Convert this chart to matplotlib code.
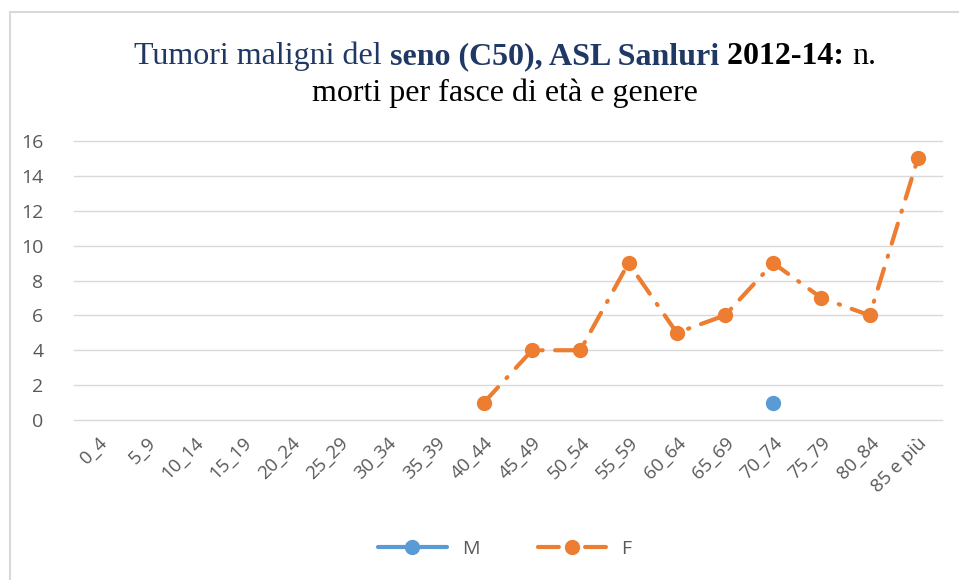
import numpy as np
import matplotlib
matplotlib.use('Agg')
import matplotlib.pyplot as plt
from matplotlib.lines import Line2D

# dati
fasce = ['0_4', '5_9', '10_14', '15_19', '20_24', '25_29', '30_34', '35_39',
         '40_44', '45_49', '50_54', '55_59', '60_64', '65_69', '70_74',
         '75_79', '80_84', '85 e più']
nan = np.nan
maschi = [nan, nan, nan, nan, nan, nan, nan, nan, nan, nan, nan, nan, nan, nan,
          1, nan, nan, nan]
femmine = [nan, nan, nan, nan, nan, nan, nan, nan, 1, 4, 4, 9, 5, 6, 9, 7, 6, 15]

blu = '#5B9BD5'
arancio = '#ED7D31'
grigio = '#595959'
blu_titolo = '#1F3864'

plt.rcParams['font.family'] = ['Open Sans', 'DejaVu Sans']

fig = plt.figure(figsize=(9.59, 5.80), dpi=100)
W, H = 959, 580
ax = fig.add_axes([74 / W, 1 - 420 / H, (942 - 74) / W, (420 - 141) / H])

x = np.arange(len(fasce))
ax.plot(x, maschi, color=blu, lw=3, marker='o', ms=10, solid_capstyle='round')
ax.plot(x, femmine, color=arancio, lw=3, marker='o', ms=10,
        dashes=(5, 3, 0.3, 3), dash_capstyle='round')

ax.set_xlim(-0.5, len(fasce) - 0.5)
ax.set_ylim(0, 16)
ax.set_yticks(range(0, 17, 2))
ax.set_xticks(x)
ax.set_xticklabels(fasce, rotation=45, ha='right', rotation_mode='anchor')
ax.tick_params(axis='both', length=0, labelcolor=grigio)
ax.tick_params(axis='y', pad=22, labelsize=14)
ax.tick_params(axis='x', pad=10, labelsize=13.5)
ax.grid(axis='y', color='#D9D9D9', lw=1)
for g in ax.get_ygridlines():
    g.set_clip_on(False)
ax.set_axisbelow(True)
for s in ax.spines.values():
    s.set_visible(False)

# titolo con stili misti
renderer = fig.canvas.get_renderer()
serif = ['Liberation Serif', 'DejaVu Serif']


def riga(pezzi, y_px):
    testi = []
    larghezze = []
    for s, kw in pezzi:
        t = fig.text(0, 1 - y_px / H, s, family=serif, fontsize=23, va='baseline', **kw)
        testi.append(t)
        larghezze.append(t.get_window_extent(renderer).width)
    x0 = 505 - sum(larghezze) / 2
    for t, w in zip(testi, larghezze):
        t.set_x(x0 / W)
        x0 += w


riga([('Tumori maligni del\u00a0', dict(color=blu_titolo)),
      ('seno (C50), ASL Sanluri\u00a0', dict(color=blu_titolo, weight='bold')),
      ('2012-14:\u00a0', dict(color='black', weight='bold')),
      ('n.', dict(color='black'))], 64)
riga([('morti per fasce di età e genere', dict(color='black'))], 101)

# legenda
handles = [Line2D([], [], color=blu, lw=3, marker='o', ms=10, solid_capstyle='round'),
           Line2D([], [], color=arancio, lw=3, marker='o', ms=10,
                  dashes=(5, 3, 0.3, 3), dash_capstyle='round')]
fig.legend(handles, ['M', 'F'], loc='center', bbox_to_anchor=(505 / W, 1 - 549 / H),
           ncol=2, frameon=False, fontsize=14, labelcolor=grigio,
           handlelength=3.5, columnspacing=3)

# bordo
fig.add_artist(Line2D([10 / W, 10 / W], [0, 1 - 12 / H], color='#D9D9D9', lw=1.5))
fig.add_artist(Line2D([10 / W, 1], [1 - 12 / H, 1 - 12 / H], color='#D9D9D9', lw=1.5))

fig.savefig('out.png', dpi=100)
plt.close()
